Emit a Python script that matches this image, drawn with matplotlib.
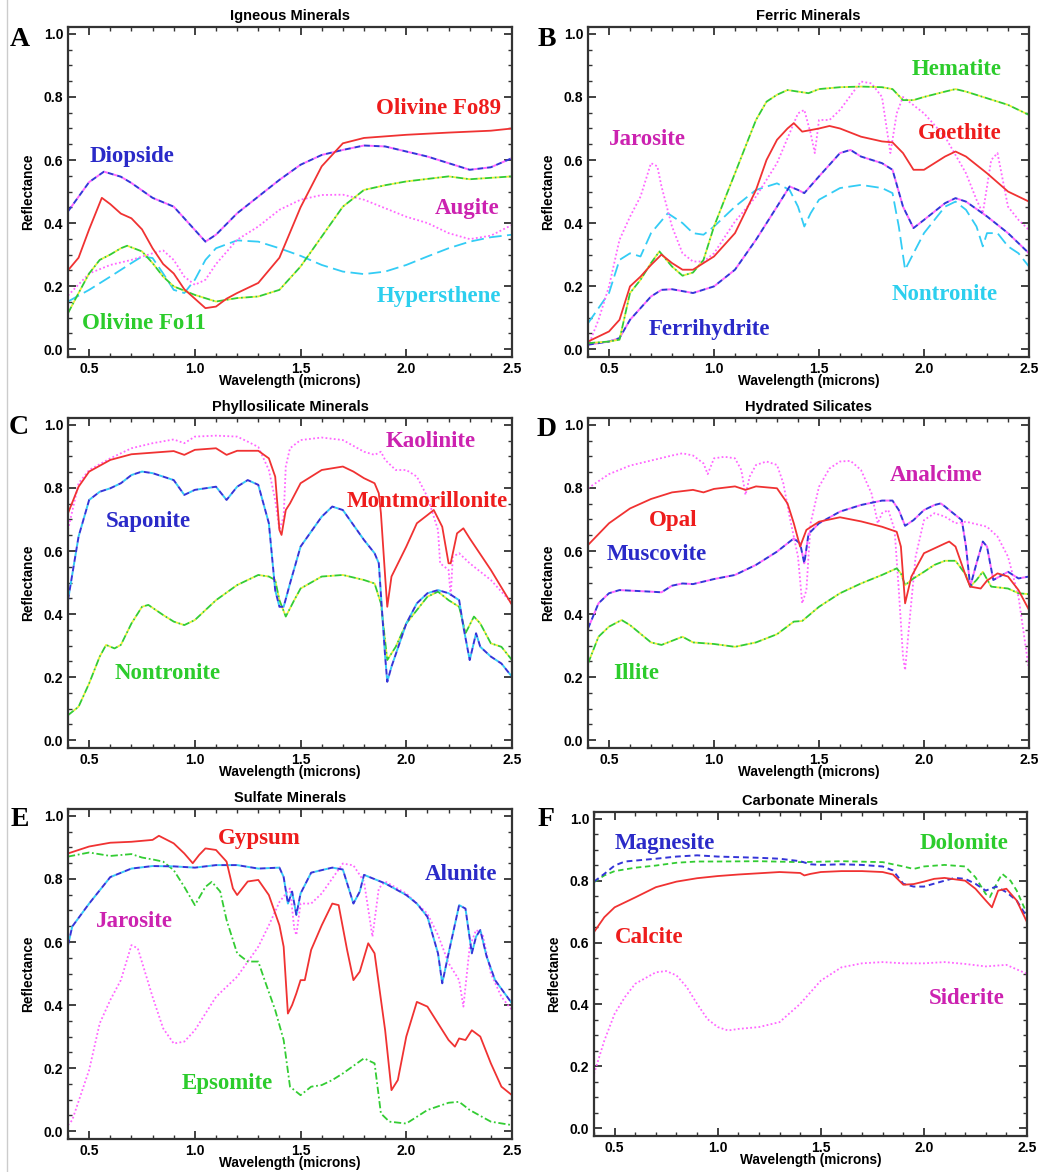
import numpy as np
import matplotlib
matplotlib.use('Agg')
import matplotlib.pyplot as plt
from matplotlib.ticker import MultipleLocator, FormatStrFormatter
from matplotlib.lines import Line2D

# ---------------- data ----------------
# A  Igneous minerals
a_fo89_wl = [0.4, 0.45, 0.5, 0.56, 0.6, 0.65, 0.7, 0.75, 0.8, 0.85, 0.9, 0.95, 1.0, 1.05, 1.1, 1.15, 1.2, 1.3, 1.4, 1.5, 1.6, 1.7, 1.8, 2.0, 2.2, 2.4, 2.5]
a_fo89 = [0.25, 0.29, 0.38, 0.48, 0.46, 0.43, 0.415, 0.38, 0.32, 0.27, 0.24, 0.19, 0.16, 0.13, 0.135, 0.16, 0.178, 0.21, 0.29, 0.45, 0.58, 0.653, 0.67, 0.68, 0.687, 0.693, 0.70]
a_diop_wl = [0.4, 0.5, 0.57, 0.65, 0.7, 0.8, 0.9, 1.0, 1.05, 1.1, 1.2, 1.3, 1.4, 1.5, 1.6, 1.7, 1.8, 1.9, 2.0, 2.1, 2.2, 2.3, 2.4, 2.5]
a_diop = [0.437, 0.53, 0.563, 0.547, 0.527, 0.48, 0.452, 0.378, 0.341, 0.363, 0.431, 0.484, 0.537, 0.585, 0.616, 0.632, 0.646, 0.643, 0.627, 0.611, 0.59, 0.569, 0.577, 0.606]
a_augite_wl = [0.4, 0.5, 0.6, 0.7, 0.8, 0.85, 0.9, 0.95, 1.0, 1.05, 1.1, 1.2, 1.3, 1.4, 1.5, 1.6, 1.7, 1.8, 1.9, 2.0, 2.1, 2.2, 2.3, 2.4, 2.5]
a_augite = [0.17, 0.24, 0.267, 0.283, 0.304, 0.313, 0.283, 0.23, 0.204, 0.22, 0.27, 0.347, 0.389, 0.442, 0.474, 0.489, 0.49, 0.474, 0.447, 0.42, 0.40, 0.368, 0.349, 0.36, 0.394]
a_fo11_wl = [0.4, 0.45, 0.5, 0.55, 0.6, 0.65, 0.68, 0.75, 0.8, 0.85, 0.9, 1.0, 1.1, 1.2, 1.3, 1.4, 1.5, 1.6, 1.7, 1.8, 1.9, 2.0, 2.2, 2.3, 2.5]
a_fo11 = [0.114, 0.178, 0.24, 0.283, 0.30, 0.32, 0.328, 0.31, 0.273, 0.23, 0.199, 0.172, 0.151, 0.162, 0.167, 0.188, 0.262, 0.357, 0.452, 0.505, 0.52, 0.532, 0.548, 0.539, 0.548]
a_hyp_wl = [0.4, 0.5, 0.6, 0.7, 0.75, 0.8, 0.85, 0.9, 0.95, 1.0, 1.05, 1.1, 1.2, 1.3, 1.4, 1.5, 1.6, 1.7, 1.8, 1.9, 2.0, 2.1, 2.2, 2.3, 2.4, 2.5]
a_hyp = [0.151, 0.188, 0.23, 0.273, 0.294, 0.289, 0.24, 0.188, 0.178, 0.22, 0.283, 0.32, 0.345, 0.341, 0.32, 0.296, 0.267, 0.246, 0.238, 0.246, 0.267, 0.294, 0.32, 0.341, 0.355, 0.363]

# B  Ferric minerals
b_hem_wl = [0.4, 0.5, 0.55, 0.6, 0.65, 0.7, 0.74, 0.8, 0.85, 0.9, 0.95, 1.0, 1.05, 1.1, 1.15, 1.2, 1.25, 1.3, 1.35, 1.4, 1.45, 1.5, 1.6, 1.7, 1.8, 1.85, 1.9, 1.95, 2.0, 2.1, 2.15, 2.2, 2.3, 2.4, 2.5]
b_hem = [0.019, 0.024, 0.03, 0.178, 0.22, 0.273, 0.31, 0.262, 0.233, 0.243, 0.283, 0.389, 0.474, 0.558, 0.643, 0.727, 0.785, 0.807, 0.822, 0.817, 0.812, 0.825, 0.831, 0.833, 0.831, 0.825, 0.79, 0.79, 0.80, 0.817, 0.825, 0.817, 0.796, 0.775, 0.743]
b_goe_wl = [0.4, 0.45, 0.5, 0.55, 0.6, 0.65, 0.7, 0.75, 0.8, 0.85, 0.9, 0.95, 1.0, 1.1, 1.2, 1.25, 1.3, 1.35, 1.38, 1.42, 1.5, 1.55, 1.6, 1.7, 1.8, 1.85, 1.9, 1.95, 2.0, 2.1, 2.15, 2.2, 2.3, 2.4, 2.5]
b_goe = [0.024, 0.04, 0.056, 0.093, 0.199, 0.23, 0.267, 0.30, 0.273, 0.252, 0.252, 0.273, 0.294, 0.368, 0.505, 0.60, 0.664, 0.70, 0.717, 0.69, 0.70, 0.708, 0.70, 0.674, 0.659, 0.656, 0.622, 0.569, 0.569, 0.611, 0.627, 0.611, 0.558, 0.50, 0.468]
b_jar_wl = [0.4, 0.45, 0.5, 0.55, 0.6, 0.65, 0.7, 0.73, 0.75, 0.8, 0.85, 0.9, 0.95, 1.0, 1.1, 1.2, 1.3, 1.4, 1.43, 1.46, 1.48, 1.5, 1.55, 1.6, 1.7, 1.75, 1.8, 1.84, 1.87, 1.9, 2.0, 2.1, 2.2, 2.25, 2.28, 2.32, 2.35, 2.4, 2.45, 2.5]
b_jar = [0.008, 0.093, 0.199, 0.347, 0.42, 0.484, 0.59, 0.58, 0.516, 0.389, 0.304, 0.278, 0.278, 0.304, 0.405, 0.484, 0.59, 0.748, 0.759, 0.685, 0.622, 0.727, 0.727, 0.759, 0.849, 0.843, 0.80, 0.622, 0.748, 0.80, 0.748, 0.674, 0.558, 0.474, 0.431, 0.60, 0.622, 0.452, 0.41, 0.378]
b_ferri_wl = [0.4, 0.5, 0.55, 0.6, 0.7, 0.75, 0.8, 0.9, 1.0, 1.1, 1.2, 1.3, 1.36, 1.4, 1.43, 1.5, 1.6, 1.65, 1.7, 1.8, 1.85, 1.9, 1.95, 2.0, 2.1, 2.15, 2.2, 2.3, 2.4, 2.5]
b_ferri = [0.014, 0.024, 0.035, 0.093, 0.167, 0.188, 0.19, 0.178, 0.199, 0.252, 0.347, 0.452, 0.516, 0.505, 0.495, 0.548, 0.622, 0.632, 0.611, 0.59, 0.569, 0.452, 0.384, 0.41, 0.463, 0.479, 0.468, 0.421, 0.368, 0.304]
b_non_wl = [0.4, 0.5, 0.55, 0.6, 0.65, 0.7, 0.78, 0.85, 0.9, 0.95, 1.0, 1.1, 1.2, 1.3, 1.36, 1.4, 1.43, 1.46, 1.5, 1.6, 1.7, 1.8, 1.85, 1.88, 1.91, 1.95, 2.0, 2.1, 2.15, 2.2, 2.25, 2.28, 2.3, 2.35, 2.4, 2.45, 2.5]
b_non = [0.082, 0.178, 0.283, 0.304, 0.294, 0.368, 0.431, 0.40, 0.368, 0.363, 0.389, 0.452, 0.505, 0.526, 0.505, 0.452, 0.389, 0.431, 0.474, 0.511, 0.521, 0.511, 0.495, 0.389, 0.252, 0.304, 0.368, 0.452, 0.468, 0.442, 0.389, 0.326, 0.368, 0.368, 0.326, 0.304, 0.262]

# C  Phyllosilicate minerals
c_kao_wl = [0.4, 0.45, 0.5, 0.6, 0.7, 0.8, 0.9, 0.95, 1.0, 1.1, 1.2, 1.25, 1.3, 1.35, 1.38, 1.4, 1.42, 1.43, 1.45, 1.5, 1.6, 1.7, 1.8, 1.85, 1.88, 1.9, 1.95, 2.0, 2.05, 2.1, 2.15, 2.16, 2.2, 2.21, 2.22, 2.25, 2.3, 2.4, 2.5]
c_kao = [0.667, 0.815, 0.857, 0.894, 0.926, 0.942, 0.954, 0.942, 0.963, 0.966, 0.963, 0.947, 0.93, 0.857, 0.762, 0.667, 0.709, 0.868, 0.926, 0.952, 0.96, 0.952, 0.915, 0.905, 0.915, 0.889, 0.857, 0.857, 0.836, 0.772, 0.667, 0.561, 0.54, 0.455, 0.582, 0.593, 0.561, 0.508, 0.434]
c_mont_wl = [0.4, 0.45, 0.5, 0.6, 0.7, 0.8, 0.9, 0.95, 1.0, 1.1, 1.15, 1.2, 1.3, 1.35, 1.38, 1.4, 1.41, 1.43, 1.45, 1.5, 1.6, 1.7, 1.75, 1.8, 1.85, 1.87, 1.88, 1.9, 1.91, 1.93, 2.0, 2.05, 2.1, 2.13, 2.17, 2.2, 2.21, 2.24, 2.27, 2.3, 2.4, 2.5]
c_mont = [0.72, 0.804, 0.852, 0.889, 0.907, 0.912, 0.917, 0.905, 0.921, 0.926, 0.905, 0.918, 0.918, 0.894, 0.836, 0.667, 0.651, 0.73, 0.751, 0.815, 0.857, 0.868, 0.852, 0.831, 0.815, 0.783, 0.72, 0.519, 0.423, 0.519, 0.614, 0.688, 0.714, 0.73, 0.677, 0.561, 0.561, 0.656, 0.672, 0.64, 0.54, 0.429]
c_sap_wl = [0.4, 0.45, 0.5, 0.55, 0.6, 0.65, 0.7, 0.75, 0.8, 0.9, 0.95, 1.0, 1.1, 1.15, 1.2, 1.25, 1.3, 1.35, 1.38, 1.4, 1.42, 1.45, 1.5, 1.6, 1.65, 1.7, 1.8, 1.85, 1.87, 1.9, 1.91, 1.93, 2.0, 2.05, 2.1, 2.15, 2.2, 2.25, 2.27, 2.3, 2.33, 2.35, 2.4, 2.45, 2.5]
c_sap = [0.444, 0.646, 0.762, 0.788, 0.799, 0.815, 0.841, 0.852, 0.847, 0.825, 0.778, 0.794, 0.804, 0.762, 0.804, 0.825, 0.81, 0.688, 0.476, 0.423, 0.423, 0.497, 0.614, 0.709, 0.741, 0.73, 0.635, 0.593, 0.561, 0.265, 0.185, 0.233, 0.37, 0.434, 0.466, 0.476, 0.466, 0.444, 0.36, 0.254, 0.339, 0.296, 0.265, 0.243, 0.201]
c_non_wl = [0.4, 0.45, 0.5, 0.55, 0.58, 0.62, 0.65, 0.7, 0.75, 0.78, 0.85, 0.9, 0.95, 1.0, 1.1, 1.2, 1.3, 1.35, 1.38, 1.4, 1.43, 1.47, 1.5, 1.6, 1.7, 1.8, 1.85, 1.88, 1.91, 1.95, 2.0, 2.1, 2.15, 2.2, 2.25, 2.28, 2.32, 2.35, 2.4, 2.45, 2.5]
c_non = [0.079, 0.106, 0.18, 0.265, 0.302, 0.291, 0.302, 0.37, 0.423, 0.429, 0.397, 0.376, 0.365, 0.381, 0.444, 0.492, 0.524, 0.519, 0.508, 0.444, 0.392, 0.444, 0.481, 0.519, 0.524, 0.508, 0.497, 0.434, 0.254, 0.296, 0.37, 0.455, 0.471, 0.444, 0.423, 0.339, 0.392, 0.37, 0.307, 0.296, 0.254]

# D  Hydrated silicates
d_ana_wl = [0.4, 0.5, 0.6, 0.7, 0.8, 0.85, 0.9, 0.95, 0.97, 1.0, 1.05, 1.1, 1.13, 1.15, 1.17, 1.2, 1.25, 1.3, 1.33, 1.36, 1.4, 1.42, 1.44, 1.46, 1.5, 1.55, 1.6, 1.65, 1.7, 1.75, 1.78, 1.8, 1.83, 1.86, 1.88, 1.9, 1.91, 1.93, 1.96, 2.0, 2.05, 2.1, 2.15, 2.2, 2.3, 2.35, 2.4, 2.45, 2.5]
d_ana = [0.799, 0.844, 0.871, 0.887, 0.903, 0.91, 0.903, 0.878, 0.844, 0.894, 0.899, 0.894, 0.857, 0.778, 0.836, 0.873, 0.884, 0.873, 0.815, 0.709, 0.582, 0.434, 0.476, 0.688, 0.804, 0.862, 0.884, 0.886, 0.857, 0.783, 0.688, 0.72, 0.73, 0.667, 0.476, 0.265, 0.222, 0.37, 0.582, 0.698, 0.72, 0.709, 0.688, 0.693, 0.677, 0.646, 0.582, 0.455, 0.222]
d_opal_wl = [0.4, 0.5, 0.6, 0.7, 0.8, 0.9, 0.95, 1.0, 1.1, 1.15, 1.2, 1.3, 1.35, 1.38, 1.41, 1.44, 1.5, 1.6, 1.7, 1.8, 1.87, 1.89, 1.91, 1.94, 2.0, 2.1, 2.12, 2.15, 2.2, 2.22, 2.27, 2.3, 2.35, 2.4, 2.45, 2.5]
d_opal = [0.619, 0.688, 0.735, 0.765, 0.786, 0.794, 0.786, 0.797, 0.805, 0.794, 0.805, 0.799, 0.751, 0.688, 0.614, 0.667, 0.693, 0.707, 0.694, 0.677, 0.661, 0.614, 0.434, 0.519, 0.593, 0.624, 0.63, 0.614, 0.519, 0.487, 0.481, 0.506, 0.529, 0.519, 0.476, 0.413]
d_musc_wl = [0.4, 0.45, 0.5, 0.55, 0.7, 0.75, 0.8, 0.85, 0.9, 1.0, 1.1, 1.2, 1.3, 1.38, 1.41, 1.43, 1.45, 1.5, 1.6, 1.7, 1.8, 1.85, 1.88, 1.91, 1.95, 2.0, 2.05, 2.08, 2.1, 2.15, 2.18, 2.2, 2.22, 2.25, 2.28, 2.3, 2.33, 2.36, 2.4, 2.45, 2.5]
d_musc = [0.354, 0.434, 0.466, 0.476, 0.471, 0.469, 0.49, 0.497, 0.495, 0.511, 0.524, 0.556, 0.598, 0.64, 0.624, 0.561, 0.654, 0.688, 0.725, 0.746, 0.76, 0.76, 0.73, 0.68, 0.698, 0.73, 0.746, 0.751, 0.741, 0.714, 0.698, 0.614, 0.487, 0.561, 0.63, 0.614, 0.508, 0.519, 0.534, 0.513, 0.519]
d_illite_wl = [0.4, 0.45, 0.5, 0.56, 0.6, 0.7, 0.75, 0.8, 0.85, 0.9, 1.0, 1.1, 1.2, 1.3, 1.38, 1.42, 1.5, 1.6, 1.7, 1.8, 1.87, 1.89, 1.91, 1.95, 2.0, 2.05, 2.1, 2.15, 2.2, 2.22, 2.25, 2.28, 2.32, 2.4, 2.45, 2.5]
d_illite = [0.243, 0.328, 0.36, 0.381, 0.365, 0.31, 0.302, 0.315, 0.328, 0.31, 0.305, 0.296, 0.31, 0.336, 0.376, 0.378, 0.423, 0.466, 0.497, 0.524, 0.545, 0.529, 0.492, 0.513, 0.534, 0.556, 0.569, 0.569, 0.524, 0.487, 0.508, 0.534, 0.487, 0.481, 0.466, 0.463]

# E  Sulfate minerals
e_gyp_wl = [0.4, 0.5, 0.6, 0.7, 0.8, 0.83, 0.9, 0.95, 0.99, 1.02, 1.05, 1.1, 1.15, 1.18, 1.2, 1.25, 1.3, 1.35, 1.4, 1.42, 1.44, 1.46, 1.48, 1.5, 1.52, 1.55, 1.6, 1.65, 1.68, 1.72, 1.75, 1.78, 1.82, 1.85, 1.9, 1.93, 1.96, 2.0, 2.05, 2.1, 2.15, 2.2, 2.23, 2.25, 2.28, 2.31, 2.35, 2.4, 2.45, 2.5]
e_gyp = [0.881, 0.903, 0.915, 0.918, 0.924, 0.937, 0.913, 0.881, 0.85, 0.876, 0.897, 0.892, 0.855, 0.77, 0.749, 0.792, 0.797, 0.749, 0.653, 0.585, 0.373, 0.40, 0.437, 0.479, 0.479, 0.575, 0.653, 0.722, 0.717, 0.575, 0.479, 0.506, 0.596, 0.564, 0.32, 0.13, 0.162, 0.30, 0.41, 0.395, 0.342, 0.289, 0.268, 0.294, 0.289, 0.32, 0.30, 0.215, 0.141, 0.114]
e_alu_wl = [0.4, 0.42, 0.5, 0.6, 0.7, 0.8, 0.9, 1.0, 1.1, 1.2, 1.3, 1.4, 1.42, 1.44, 1.46, 1.48, 1.5, 1.55, 1.65, 1.7, 1.75, 1.78, 1.8, 1.9, 2.0, 2.05, 2.1, 2.15, 2.17, 2.2, 2.25, 2.28, 2.31, 2.33, 2.35, 2.38, 2.42, 2.5]
e_alu = [0.59, 0.649, 0.722, 0.806, 0.833, 0.841, 0.84, 0.836, 0.844, 0.844, 0.833, 0.836, 0.806, 0.722, 0.76, 0.686, 0.754, 0.82, 0.836, 0.83, 0.722, 0.76, 0.813, 0.786, 0.749, 0.722, 0.68, 0.564, 0.469, 0.564, 0.717, 0.706, 0.564, 0.617, 0.638, 0.554, 0.479, 0.405]
e_jar_wl = [0.4, 0.42, 0.5, 0.55, 0.6, 0.65, 0.7, 0.73, 0.8, 0.85, 0.9, 0.95, 1.0, 1.1, 1.2, 1.3, 1.35, 1.4, 1.45, 1.47, 1.48, 1.5, 1.55, 1.6, 1.7, 1.75, 1.8, 1.84, 1.87, 1.9, 2.0, 2.1, 2.15, 2.2, 2.25, 2.27, 2.3, 2.33, 2.36, 2.4, 2.45, 2.5]
e_jar = [0.019, 0.035, 0.194, 0.342, 0.416, 0.479, 0.59, 0.58, 0.426, 0.326, 0.278, 0.284, 0.32, 0.426, 0.49, 0.585, 0.653, 0.727, 0.77, 0.643, 0.622, 0.722, 0.722, 0.754, 0.849, 0.843, 0.792, 0.617, 0.77, 0.792, 0.754, 0.69, 0.622, 0.533, 0.479, 0.395, 0.585, 0.638, 0.627, 0.50, 0.426, 0.384]
e_eps_wl = [0.4, 0.5, 0.6, 0.7, 0.75, 0.8, 0.85, 0.9, 0.95, 1.0, 1.05, 1.08, 1.12, 1.15, 1.2, 1.25, 1.3, 1.33, 1.38, 1.42, 1.45, 1.5, 1.55, 1.6, 1.65, 1.7, 1.8, 1.85, 1.88, 1.92, 2.0, 2.1, 2.2, 2.25, 2.3, 2.4, 2.5]
e_eps = [0.871, 0.884, 0.873, 0.879, 0.868, 0.862, 0.855, 0.828, 0.775, 0.717, 0.775, 0.791, 0.76, 0.67, 0.564, 0.538, 0.538, 0.479, 0.384, 0.289, 0.141, 0.114, 0.141, 0.146, 0.162, 0.183, 0.231, 0.215, 0.056, 0.03, 0.024, 0.067, 0.09, 0.093, 0.067, 0.03, 0.019]

# F  Carbonate minerals
f_mag_wl = [0.4, 0.45, 0.5, 0.55, 0.6, 0.7, 0.8, 0.9, 1.0, 1.1, 1.2, 1.3, 1.4, 1.45, 1.5, 1.6, 1.7, 1.8, 1.85, 1.9, 1.95, 2.0, 2.1, 2.15, 2.2, 2.25, 2.3, 2.35, 2.4, 2.45, 2.5]
f_mag = [0.797, 0.822, 0.849, 0.862, 0.865, 0.871, 0.878, 0.882, 0.878, 0.876, 0.874, 0.871, 0.863, 0.853, 0.851, 0.853, 0.851, 0.846, 0.833, 0.79, 0.781, 0.781, 0.80, 0.809, 0.806, 0.79, 0.768, 0.781, 0.763, 0.736, 0.682]
f_dol_wl = [0.4, 0.45, 0.5, 0.6, 0.7, 0.8, 0.9, 1.0, 1.2, 1.4, 1.6, 1.8, 1.85, 1.9, 1.95, 2.0, 2.1, 2.2, 2.25, 2.3, 2.32, 2.36, 2.38, 2.42, 2.45, 2.5]
f_dol = [0.795, 0.817, 0.831, 0.842, 0.849, 0.858, 0.862, 0.862, 0.863, 0.86, 0.863, 0.86, 0.853, 0.846, 0.838, 0.846, 0.851, 0.846, 0.811, 0.757, 0.747, 0.80, 0.822, 0.80, 0.768, 0.693]
f_cal_wl = [0.4, 0.45, 0.5, 0.6, 0.7, 0.8, 0.9, 1.0, 1.1, 1.2, 1.3, 1.4, 1.42, 1.45, 1.5, 1.6, 1.7, 1.8, 1.85, 1.9, 1.95, 2.0, 2.05, 2.1, 2.2, 2.25, 2.3, 2.33, 2.36, 2.4, 2.45, 2.5]
f_cal = [0.634, 0.682, 0.714, 0.746, 0.779, 0.797, 0.808, 0.815, 0.82, 0.824, 0.828, 0.825, 0.817, 0.822, 0.828, 0.831, 0.831, 0.828, 0.82, 0.787, 0.789, 0.797, 0.806, 0.809, 0.80, 0.774, 0.736, 0.714, 0.768, 0.774, 0.736, 0.666]
f_sid_wl = [0.4, 0.45, 0.5, 0.55, 0.6, 0.7, 0.75, 0.8, 0.85, 0.9, 0.95, 1.0, 1.05, 1.1, 1.2, 1.3, 1.4, 1.5, 1.6, 1.7, 1.8, 1.9, 2.0, 2.1, 2.2, 2.3, 2.4, 2.5]
f_sid = [0.176, 0.283, 0.37, 0.424, 0.467, 0.504, 0.508, 0.494, 0.456, 0.402, 0.353, 0.327, 0.316, 0.321, 0.327, 0.343, 0.402, 0.477, 0.52, 0.533, 0.537, 0.533, 0.533, 0.537, 0.531, 0.523, 0.528, 0.499]

titles = ['Igneous Minerals', 'Ferric Minerals', 'Phyllosilicate Minerals',
          'Hydrated Silicates', 'Sulfate Minerals', 'Carbonate Minerals']
letters = ['A', 'B', 'C', 'D', 'E', 'F']

# ---------------- styles ----------------
RED, BLUE, GREEN, MAG, CYAN = '#f03232', '#3434d8', '#33cc33', '#ff66ff', '#33ccf5'
T_RED, T_BLUE, T_GREEN, T_MAG, T_CYAN = '#ee1c1c', '#2a2ac8', '#2ccc2c', '#cc22b0', '#2ccfee'

solid = dict(color=RED, ls='-', lw=1.3)
dotted = dict(color=MAG, ls=(0, (1, 1.3)), lw=1.3)
longdash = dict(color=CYAN, ls=(0, (7, 3)), lw=1.3)

def dashed(gap=None):
    d = dict(color=BLUE, ls=(0, (3, 2)), lw=1.4)
    if gap:
        d['gapcolor'] = gap
    return d

def gdash(gap=None):
    d = dict(color=GREEN, ls=(0, (4, 1.5, 1, 1.5)), lw=1.3)
    if gap:
        d['gapcolor'] = gap
    return d

panels = [
    # curves: (wl, refl, style) ; labels: (x, y, text, color, ha)
    dict(curves=[(a_hyp_wl, a_hyp, longdash), (a_augite_wl, a_augite, dotted),
                 (a_fo11_wl, a_fo11, gdash('#eeee33')), (a_diop_wl, a_diop, dashed(MAG)),
                 (a_fo89_wl, a_fo89, solid)],
         labels=[(0.5, 0.61, 'Diopside', T_BLUE, 'left'), (2.45, 0.765, 'Olivine Fo89', T_RED, 'right'),
                 (2.44, 0.445, 'Augite', T_MAG, 'right'), (2.45, 0.167, 'Hypersthene', T_CYAN, 'right'),
                 (0.465, 0.08, 'Olivine Fo11', T_GREEN, 'left')]),
    dict(curves=[(b_non_wl, b_non, longdash), (b_jar_wl, b_jar, dotted),
                 (b_ferri_wl, b_ferri, dashed(MAG)), (b_hem_wl, b_hem, gdash('#eeee33')),
                 (b_goe_wl, b_goe, solid)],
         labels=[(2.37, 0.886, 'Hematite', T_GREEN, 'right'), (0.5, 0.664, 'Jarosite', T_MAG, 'left'),
                 (2.37, 0.683, 'Goethite', T_RED, 'right'), (2.35, 0.172, 'Nontronite', T_CYAN, 'right'),
                 (0.69, 0.061, 'Ferrihydrite', T_BLUE, 'left')]),
    dict(curves=[(c_kao_wl, c_kao, dotted), (c_non_wl, c_non, gdash('#eeee33')),
                 (c_sap_wl, c_sap, dashed(CYAN)), (c_mont_wl, c_mont, solid)],
         labels=[(2.33, 0.947, 'Kaolinite', T_MAG, 'right'), (2.48, 0.757, 'Montmorillonite', T_RED, 'right'),
                 (0.58, 0.693, 'Saponite', T_BLUE, 'left'), (0.62, 0.212, 'Nontronite', T_GREEN, 'left')]),
    dict(curves=[(d_ana_wl, d_ana, dotted), (d_illite_wl, d_illite, gdash('#eeee33')),
                 (d_musc_wl, d_musc, dashed(MAG)), (d_opal_wl, d_opal, solid)],
         labels=[(2.28, 0.841, 'Analcime', T_MAG, 'right'), (0.69, 0.698, 'Opal', T_RED, 'left'),
                 (0.49, 0.589, 'Muscovite', T_BLUE, 'left'), (0.52, 0.212, 'Illite', T_GREEN, 'left')]),
    dict(curves=[(e_jar_wl, e_jar, dotted), (e_eps_wl, e_eps, gdash()),
                 (e_alu_wl, e_alu, dashed(CYAN)), (e_gyp_wl, e_gyp, solid)],
         labels=[(1.11, 0.929, 'Gypsum', T_RED, 'left'), (2.43, 0.813, 'Alunite', T_BLUE, 'right'),
                 (0.53, 0.665, 'Jarosite', T_MAG, 'left'), (0.94, 0.151, 'Epsomite', T_GREEN, 'left')]),
    dict(curves=[(f_sid_wl, f_sid, dotted), (f_dol_wl, f_dol, dict(color=GREEN, ls=(0, (3, 2)), lw=1.3)),
                 (f_mag_wl, f_mag, dashed()), (f_cal_wl, f_cal, solid)],
         labels=[(0.5, 0.919, 'Magnesite', T_BLUE, 'left'), (2.41, 0.919, 'Dolomite', T_GREEN, 'right'),
                 (0.5, 0.617, 'Calcite', T_RED, 'left'), (2.39, 0.418, 'Siderite', T_MAG, 'right')]),
]

# axes boxes in pixels: left, top, right, bottom
boxes = [(68, 27, 512, 357), (588, 27, 1029, 357),
         (68, 418, 512, 748), (588, 418, 1029, 748),
         (68, 809, 512, 1139), (594, 812, 1027, 1136)]
letter_pos = [(20, 40), (547, 40), (19, 427), (547, 430), (20, 820), (546, 820)]

W, H = 1046, 1172
fig = plt.figure(figsize=(W / 100, H / 100), dpi=100)

SANS = ['Liberation Sans', 'DejaVu Sans']
SERIF = ['Liberation Serif', 'DejaVu Serif']

for i, p in enumerate(panels):
    l, t, r, b = boxes[i]
    ax = fig.add_axes([l / W, 1 - b / H, (r - l) / W, (b - t) / H])
    for wl, refl, st in p['curves']:
        ax.plot(wl, refl, **st)
    for x, y, s, c, ha in p['labels']:
        ax.text(x, y, s, color=c, ha=ha, va='center', family=SERIF,
                fontweight='bold', fontsize=16.5)
    ax.set_xlim(0.4, 2.5)
    ax.set_ylim(-0.025, 1.022)
    ax.xaxis.set_major_locator(MultipleLocator(0.5))
    ax.xaxis.set_minor_locator(MultipleLocator(0.1))
    ax.yaxis.set_major_locator(MultipleLocator(0.2))
    ax.yaxis.set_minor_locator(MultipleLocator(0.05))
    ax.xaxis.set_major_formatter(FormatStrFormatter('%.1f'))
    ax.yaxis.set_major_formatter(FormatStrFormatter('%.1f'))
    ax.tick_params(which='both', direction='in', top=True, right=True,
                   color='#333333', labelsize=10)
    ax.tick_params(which='major', length=6, width=1.3, pad=3.5)
    ax.tick_params(which='minor', length=3, width=1)
    for lab in ax.get_xticklabels() + ax.get_yticklabels():
        lab.set_fontweight('bold')
        lab.set_family(SANS)
    for sp in ax.spines.values():
        sp.set_linewidth(1.6)
        sp.set_color('#333333')
    ax.set_title(titles[i], fontsize=10.5, fontweight='bold', family=SANS, pad=5)
    ax.set_xlabel('Wavelength (microns)', fontsize=9.8, fontweight='bold', family=SANS, labelpad=-1)
    ax.set_ylabel('Reflectance', fontsize=9.8, fontweight='bold', family=SANS, labelpad=6)
    lx, ly = letter_pos[i]
    fig.text(lx / W, 1 - ly / H, letters[i], ha='center', va='center',
             family=SERIF, fontweight='bold', fontsize=20)

# thin grey frame line at the left edge of the page
fig.add_artist(Line2D([7 / W, 7 / W], [0, 1], color='#cccccc', lw=1))

fig.savefig('out.png', dpi=100)
